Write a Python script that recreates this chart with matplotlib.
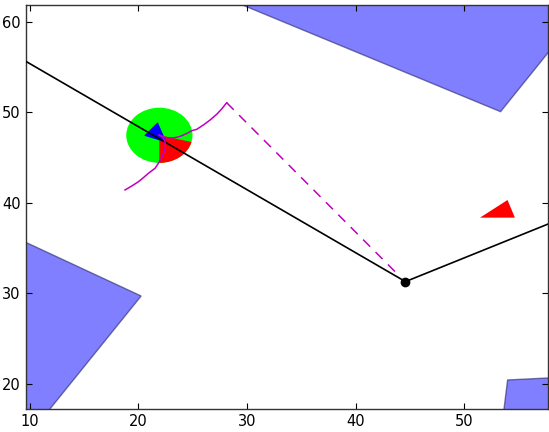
import matplotlib
matplotlib.use("Agg")
import matplotlib.pyplot as plt
from matplotlib.patches import Polygon, Circle, Wedge

# obstacle polygons (x, y)
obstacle_top = [(27.0, 63.16), (53.35, 50.09), (59.0, 58.5), (59.0, 64.0), (27.0, 64.0)]
obstacle_left = [(8.0, 36.56), (20.25, 29.72), (11.02, 16.0), (8.0, 16.0)]
obstacle_right = [(53.54, 16.0), (54.0, 20.44), (59.0, 20.74), (59.0, 16.0)]

# black path
path_x = [8.0, 44.59, 59.0]
path_y = [56.79, 31.31, 38.29]
dot_x, dot_y = 44.59, 31.31

# robot
robot_center = (21.93, 47.48)
robot_radius = 3.05
wedge_theta = (-90, -14)
robot_tri = [(20.52, 47.44), (21.78, 48.92), (22.61, 46.66)]

# target triangle
target_tri = [(51.46, 38.38), (53.99, 40.33), (54.67, 38.38)]

# magenta trajectory arcs
arc_up_x = [21.91, 22.24, 22.61, 22.98, 23.37, 23.77, 24.14, 24.54, 24.91, 25.37,
            25.98, 26.60, 27.21, 27.67, 28.13]
arc_up_y = [47.50, 47.33, 47.22, 47.18, 47.22, 47.33, 47.51, 47.73, 47.99, 48.14,
            48.62, 49.17, 49.80, 50.39, 51.08]
arc_dn_x = [21.91, 22.15, 22.36, 22.48, 22.48, 22.36, 22.18, 21.93, 21.53, 20.92,
            20.46, 20.00, 19.39, 18.77]
arc_dn_y = [47.50, 47.37, 47.04, 46.59, 46.15, 45.67, 45.12, 44.56, 43.83, 43.28,
            42.80, 42.35, 41.88, 41.44]
dash_x = [28.13, 44.10]
dash_y = [51.08, 31.85]

xticks = [10, 20, 30, 40, 50]
yticks = [20, 30, 40, 50, 60]

fig = plt.figure(figsize=(5.49, 4.32), dpi=100)
ax = fig.add_axes([0.048, 0.054, 0.9506, 0.9353])

for poly in (obstacle_top, obstacle_left, obstacle_right):
    ax.add_patch(Polygon(poly, closed=True, facecolor=(0, 0, 1, 0.5),
                         edgecolor=(0.15, 0.15, 0.4, 0.6), linewidth=1.0))

ax.add_patch(Circle(robot_center, robot_radius, facecolor=(0, 1, 0), edgecolor='none', zorder=2))
ax.add_patch(Wedge(robot_center, robot_radius, wedge_theta[0], wedge_theta[1],
                   facecolor=(1, 0, 0), edgecolor='none', zorder=3))
ax.add_patch(Polygon(robot_tri, closed=True, facecolor=(0, 0, 1), edgecolor='none', zorder=4))
ax.add_patch(Polygon(target_tri, closed=True, facecolor=(1, 0, 0), edgecolor='none', zorder=4))

ax.plot(path_x, path_y, color='k', linewidth=1.2, zorder=5)
ax.plot([dot_x], [dot_y], 'o', color='k', markersize=6, zorder=7)
ax.plot(arc_up_x, arc_up_y, color='m', linewidth=1.1, zorder=6)
ax.plot(arc_dn_x, arc_dn_y, color='m', linewidth=1.1, zorder=6)
ax.plot(dash_x, dash_y, color='m', linewidth=1.1, linestyle=(0, (6.5, 5)), zorder=6)

ax.set_xlim(9.68, 57.74)
ax.set_ylim(17.27, 61.92)
ax.set_xticks(xticks)
ax.set_yticks(yticks)
ax.tick_params(direction='in', top=True, right=True, length=4, labelsize=10.5, pad=4)
for s in ax.spines.values():
    s.set_color('#333333')
    s.set_linewidth(1.0)

fig.savefig("out.png", dpi=100)
